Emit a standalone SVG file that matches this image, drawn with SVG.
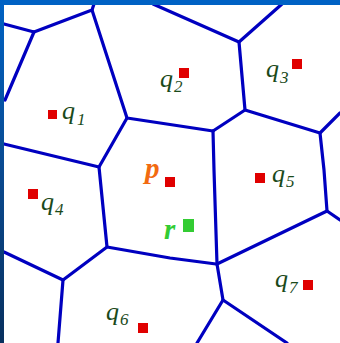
<svg xmlns="http://www.w3.org/2000/svg" width="340" height="343" viewBox="0 0 340 343">
<defs>
<linearGradient id="lg" x1="0" y1="0" x2="0" y2="1">
<stop offset="0" stop-color="#0062c4"/>
<stop offset="0.5" stop-color="#0a4a90"/>
<stop offset="1" stop-color="#08305e"/>
</linearGradient>
</defs>
<style>
.e{stroke:#0000c0;stroke-width:3.2;fill:none;stroke-linejoin:round;stroke-linecap:round}
.s{fill:#e00000}
.q{font-family:"Liberation Serif",serif;font-style:italic;fill:#1a4a1a;font-size:26px}
.sub{font-size:17px}
</style>
<rect width="340" height="343" fill="#ffffff"/>
<g id="connectors">
<polyline class="e" points="4,24 34,32 92,10 94,4"/>
<line class="e" x1="34" y1="32" x2="5" y2="100"/>
<polyline class="e" points="92,10 127,118 213,131"/>
<polyline class="e" points="127,118 99,167 4,144"/>
<polyline class="e" points="99,167 107,247 63,280 4,252"/>
<line class="e" x1="63" y1="280" x2="58" y2="343"/>
<polyline class="e" points="107,247 170,258 216,264"/>
<polyline class="e" points="213,131 214,170 217,264"/>
<polyline class="e" points="213,131 245,110 239,42 282,4"/>
<line class="e" x1="239" y1="42" x2="153" y2="4"/>
<polyline class="e" points="245,110 320,133 340,113"/>
<polyline class="e" points="320,133 324,170 327,211 340,220"/>
<line class="e" x1="327" y1="211" x2="217" y2="264"/>
<polyline class="e" points="217,264 223,300 197,343"/>
<line class="e" x1="223" y1="300" x2="287" y2="343"/>
</g>
<rect x="0" y="0" width="340" height="5" fill="#0062c4"/>
<rect x="0" y="0" width="4" height="343" fill="url(#lg)"/>
<g id="q1"><rect class="s" x="48" y="110" width="9" height="9"/><text class="q" x="62" y="119">q<tspan class="sub" dx="2" dy="6">1</tspan></text></g>
<g id="q2"><rect class="s" x="179" y="68" width="10" height="10"/><text class="q" x="160" y="87">q<tspan class="sub" dx="1" dy="5">2</tspan></text></g>
<g id="q3"><rect class="s" x="292" y="59" width="10" height="10"/><text class="q" x="266" y="77">q<tspan class="sub" dx="1" dy="6">3</tspan></text></g>
<g id="q4"><rect class="s" x="28" y="189" width="10" height="10"/><text class="q" x="41" y="210">q<tspan class="sub" dx="1" dy="5">4</tspan></text></g>
<g id="q5"><rect class="s" x="255" y="173" width="10" height="10"/><text class="q" x="272" y="182">q<tspan class="sub" dx="1" dy="5">5</tspan></text></g>
<g id="q6"><rect class="s" x="138" y="323" width="10" height="10"/><text class="q" x="106" y="320">q<tspan class="sub" dx="1" dy="5">6</tspan></text></g>
<g id="q7"><rect class="s" x="303" y="280" width="10" height="10"/><text class="q" x="275" y="287">q<tspan class="sub" dx="1" dy="6">7</tspan></text></g>
<g id="p"><rect class="s" x="165" y="177" width="10" height="10"/><text x="145" y="178" font-family="Liberation Serif,serif" font-style="italic" font-weight="bold" font-size="29" fill="#f26a10">p</text></g>
<g id="r"><rect x="183" y="219" width="11" height="13" fill="#33cc33"/><text x="164" y="239" font-family="Liberation Serif,serif" font-style="italic" font-weight="bold" font-size="29" fill="#33cc33">r</text></g>
</svg>
